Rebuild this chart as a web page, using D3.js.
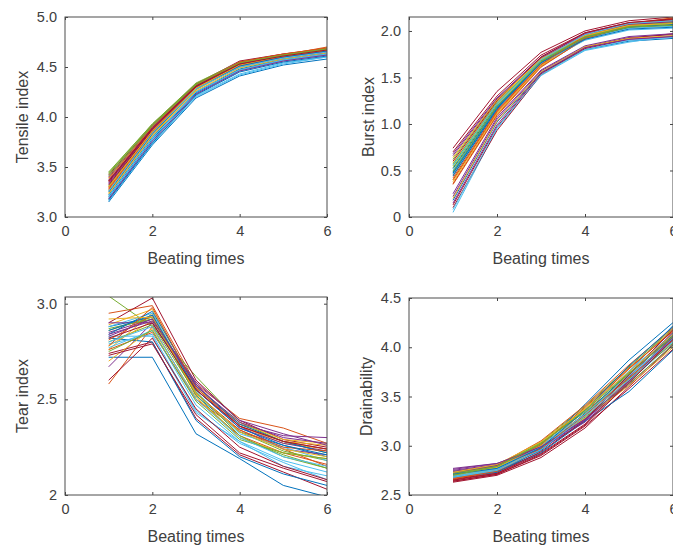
<!DOCTYPE html>
<html>
<head>
<meta charset="utf-8">
<script src="https://cdn.jsdelivr.net/npm/d3@7"></script>
<style>
  body { margin: 0; background: #fff; }
  text { font-family: "Liberation Sans", Arial, sans-serif; fill: #404040; }
</style>
</head>
<body>
<div id="visualization"></div>
<script>
// x positions (beating times)
const beatingTimes = [1, 2, 3, 4, 5, 6];

// MATLAB default colour order
const lineColors = ["#0072BD", "#D95319", "#EDB120", "#7E2F8E", "#77AC30", "#4DBEEE", "#A2142F"];

const tensileSeries = [
  [3.15, 3.72, 4.19, 4.41, 4.52, 4.58], [3.30, 3.85, 4.28, 4.50, 4.60, 4.66], [3.38, 3.90, 4.32, 4.54, 4.62, 4.68],
  [3.34, 3.88, 4.30, 4.52, 4.60, 4.65], [3.45, 3.93, 4.33, 4.53, 4.61, 4.67], [3.18, 3.75, 4.21, 4.43, 4.54, 4.60],
  [3.36, 3.89, 4.31, 4.55, 4.62, 4.67], [3.20, 3.78, 4.24, 4.47, 4.57, 4.63], [3.27, 3.84, 4.29, 4.55, 4.63, 4.69],
  [3.24, 3.82, 4.27, 4.51, 4.60, 4.66], [3.40, 3.91, 4.32, 4.51, 4.59, 4.64], [3.31, 3.86, 4.29, 4.50, 4.59, 4.65],
  [3.16, 3.73, 4.20, 4.42, 4.53, 4.60], [3.42, 3.92, 4.33, 4.56, 4.63, 4.68], [3.22, 3.80, 4.25, 4.48, 4.58, 4.64],
  [3.29, 3.86, 4.30, 4.53, 4.62, 4.68], [3.26, 3.83, 4.28, 4.52, 4.61, 4.67], [3.33, 3.87, 4.30, 4.51, 4.60, 4.65],
  [3.43, 3.92, 4.33, 4.54, 4.62, 4.69], [3.19, 3.77, 4.23, 4.46, 4.56, 4.62], [3.35, 3.88, 4.31, 4.52, 4.61, 4.66],
  [3.17, 3.74, 4.22, 4.45, 4.55, 4.61], [3.28, 3.85, 4.29, 4.54, 4.62, 4.70], [3.23, 3.81, 4.26, 4.49, 4.58, 4.64],
  [3.37, 3.89, 4.31, 4.53, 4.61, 4.67], [3.44, 3.93, 4.34, 4.55, 4.62, 4.68], [3.21, 3.79, 4.25, 4.47, 4.57, 4.63],
  [3.32, 3.87, 4.30, 4.52, 4.60, 4.66], [3.25, 3.83, 4.28, 4.51, 4.60, 4.66], [3.39, 3.90, 4.32, 4.55, 4.63, 4.69],
  [3.30, 3.86, 4.29, 4.52, 4.61, 4.67], [3.18, 3.76, 4.23, 4.46, 4.56, 4.62], [3.41, 3.91, 4.32, 4.54, 4.62, 4.68],
  [3.26, 3.84, 4.28, 4.50, 4.59, 4.65], [3.36, 3.89, 4.31, 4.53, 4.61, 4.67]
];

const burstSeries = [
  [0.18, 1.02, 1.55, 1.80, 1.89, 1.92], [0.45, 1.15, 1.65, 1.92, 2.04, 2.10], [0.40, 1.12, 1.63, 1.93, 2.05, 2.12],
  [0.68, 1.28, 1.72, 1.97, 2.08, 2.11], [0.55, 1.22, 1.69, 1.95, 2.06, 2.09], [0.05, 0.95, 1.52, 1.79, 1.88, 1.95],
  [0.74, 1.35, 1.77, 2.00, 2.11, 2.15], [0.48, 1.18, 1.66, 1.93, 2.04, 2.06], [0.36, 1.10, 1.62, 1.91, 2.05, 2.13],
  [0.58, 1.24, 1.70, 1.96, 2.07, 2.10], [0.22, 1.05, 1.57, 1.83, 1.93, 1.96], [0.62, 1.26, 1.71, 1.94, 2.05, 2.07],
  [0.50, 1.20, 1.67, 1.92, 2.03, 2.05], [0.13, 0.97, 1.54, 1.82, 1.92, 1.97], [0.52, 1.19, 1.67, 1.94, 2.06, 2.08],
  [0.42, 1.14, 1.64, 1.92, 2.05, 2.11], [0.38, 1.11, 1.62, 1.94, 2.07, 2.14], [0.25, 1.07, 1.58, 1.84, 1.94, 1.97],
  [0.57, 1.23, 1.69, 1.95, 2.06, 2.09], [0.46, 1.17, 1.65, 1.90, 2.01, 2.03], [0.10, 0.93, 1.53, 1.81, 1.91, 1.94],
  [0.44, 1.16, 1.66, 1.93, 2.04, 2.07], [0.35, 1.09, 1.61, 1.92, 2.06, 2.13], [0.20, 1.03, 1.56, 1.83, 1.92, 1.95],
  [0.66, 1.27, 1.71, 1.96, 2.07, 2.10], [0.53, 1.21, 1.68, 1.94, 2.05, 2.08], [0.08, 0.96, 1.53, 1.80, 1.90, 1.93],
  [0.60, 1.25, 1.72, 1.98, 2.09, 2.12], [0.47, 1.17, 1.66, 1.91, 2.02, 2.04], [0.40, 1.13, 1.64, 1.95, 2.08, 2.14],
  [0.64, 1.26, 1.70, 1.95, 2.06, 2.08], [0.15, 0.99, 1.55, 1.82, 1.91, 1.94], [0.49, 1.19, 1.67, 1.93, 2.04, 2.06],
  [0.56, 1.22, 1.69, 1.96, 2.08, 2.11], [0.70, 1.30, 1.74, 1.98, 2.09, 2.13]
];

const tearSeries = [
  [2.72, 2.72, 2.32, 2.19, 2.05, 1.99], [2.95, 2.99, 2.58, 2.40, 2.35, 2.27], [2.76, 2.95, 2.55, 2.36, 2.27, 2.24],
  [2.67, 2.90, 2.56, 2.37, 2.31, 2.30], [3.04, 2.88, 2.62, 2.38, 2.28, 2.22], [2.83, 2.83, 2.43, 2.28, 2.15, 2.10],
  [2.90, 3.03, 2.60, 2.39, 2.29, 2.25], [2.88, 2.93, 2.52, 2.33, 2.26, 2.20], [2.58, 2.88, 2.50, 2.34, 2.24, 2.15],
  [2.89, 2.97, 2.56, 2.38, 2.29, 2.27], [2.85, 2.92, 2.58, 2.36, 2.24, 2.21], [2.80, 2.89, 2.53, 2.33, 2.23, 2.18],
  [2.88, 2.95, 2.54, 2.32, 2.25, 2.18], [2.74, 2.80, 2.40, 2.21, 2.12, 2.03], [2.82, 2.80, 2.39, 2.20, 2.11, 2.05],
  [2.76, 2.85, 2.50, 2.31, 2.22, 2.16], [2.78, 2.91, 2.57, 2.37, 2.28, 2.26], [2.90, 2.90, 2.55, 2.35, 2.27, 2.23],
  [2.86, 2.93, 2.52, 2.30, 2.21, 2.14], [2.79, 2.84, 2.44, 2.27, 2.17, 2.08], [2.60, 2.82, 2.45, 2.25, 2.15, 2.08],
  [2.84, 2.96, 2.57, 2.37, 2.28, 2.22], [2.81, 2.94, 2.53, 2.34, 2.25, 2.23], [2.70, 2.87, 2.51, 2.30, 2.22, 2.19],
  [2.84, 2.91, 2.59, 2.39, 2.32, 2.26], [2.87, 2.92, 2.54, 2.31, 2.20, 2.14], [2.77, 2.86, 2.47, 2.28, 2.18, 2.12],
  [2.73, 2.79, 2.42, 2.22, 2.14, 2.07], [2.86, 2.94, 2.55, 2.35, 2.26, 2.21], [2.78, 2.98, 2.56, 2.36, 2.28, 2.24],
  [2.92, 2.93, 2.53, 2.33, 2.24, 2.20], [2.83, 2.92, 2.57, 2.38, 2.30, 2.27], [2.75, 2.86, 2.49, 2.29, 2.22, 2.19],
  [2.80, 2.88, 2.50, 2.30, 2.20, 2.15], [2.82, 2.90, 2.55, 2.36, 2.28, 2.24]
];

const drainSeries = [
  [2.70, 2.75, 2.95, 3.30, 3.75, 4.22], [2.65, 2.76, 3.02, 3.35, 3.70, 4.15], [2.69, 2.78, 3.03, 3.38, 3.78, 4.18],
  [2.77, 2.82, 2.98, 3.25, 3.68, 4.12], [2.74, 2.80, 3.04, 3.40, 3.80, 4.19], [2.68, 2.74, 2.92, 3.28, 3.65, 4.05],
  [2.63, 2.70, 2.88, 3.18, 3.60, 4.02], [2.72, 2.76, 2.99, 3.42, 3.87, 4.25], [2.66, 2.73, 2.96, 3.36, 3.78, 4.17],
  [2.71, 2.79, 3.01, 3.32, 3.72, 4.13], [2.75, 2.81, 3.00, 3.27, 3.62, 4.03], [2.70, 2.77, 3.02, 3.37, 3.74, 4.10],
  [2.67, 2.75, 2.97, 3.31, 3.70, 4.08], [2.64, 2.71, 2.90, 3.20, 3.58, 3.98], [2.69, 2.74, 2.93, 3.25, 3.55, 3.97],
  [2.72, 2.80, 3.05, 3.41, 3.82, 4.20], [2.68, 2.76, 2.98, 3.30, 3.66, 4.06], [2.73, 2.79, 2.97, 3.24, 3.64, 4.09],
  [2.71, 2.78, 2.99, 3.29, 3.63, 4.02], [2.70, 2.77, 3.00, 3.35, 3.76, 4.14], [2.66, 2.72, 2.92, 3.22, 3.66, 4.11],
  [2.68, 2.73, 2.96, 3.33, 3.73, 4.12], [2.66, 2.75, 3.01, 3.39, 3.79, 4.16], [2.70, 2.78, 3.00, 3.28, 3.61, 4.00],
  [2.74, 2.80, 2.99, 3.27, 3.70, 4.15], [2.72, 2.79, 3.03, 3.34, 3.68, 4.04], [2.69, 2.76, 2.99, 3.32, 3.71, 4.09],
  [2.65, 2.72, 2.94, 3.26, 3.72, 4.18], [2.71, 2.77, 2.98, 3.36, 3.81, 4.21], [2.67, 2.74, 2.97, 3.31, 3.69, 4.07],
  [2.73, 2.81, 3.04, 3.37, 3.75, 4.13], [2.76, 2.82, 2.99, 3.26, 3.66, 4.10], [2.70, 2.79, 3.02, 3.36, 3.73, 4.11],
  [2.68, 2.75, 2.96, 3.30, 3.67, 4.06], [2.64, 2.71, 2.91, 3.21, 3.64, 4.08]
];

// tick values and labels
const xTicks = [0, 2, 4, 6];
const tensileTicks = [3.0, 3.5, 4.0, 4.5, 5.0];
const tensileTickLabels = ["3.0", "3.5", "4.0", "4.5", "5.0"];
const burstTicks = [0, 0.5, 1.0, 1.5, 2.0];
const burstTickLabels = ["0", "0.5", "1.0", "1.5", "2.0"];
const tearTicks = [2, 2.5, 3.0];
const tearTickLabels = ["2", "2.5", "3.0"];
const drainTicks = [2.5, 3.0, 3.5, 4.0, 4.5];
const drainTickLabels = ["2.5", "3.0", "3.5", "4.0", "4.5"];

const svg = d3.select("#visualization").append("svg")
    .attr("width", 673)
    .attr("height", 546);

const panels = [
    { left: 65, right: 327, top: 17, bottom: 217, yDomain: [3.0, 5.0], yTicks: tensileTicks, yLabels: tensileTickLabels,
      series: tensileSeries, yTitle: "Tensile index", yTitleX: 22 },
    { left: 409, right: 673, top: 17, bottom: 217, yDomain: [0, 2.15], yTicks: burstTicks, yLabels: burstTickLabels,
      series: burstSeries, yTitle: "Burst index", yTitleX: 368 },
    { left: 65, right: 327, top: 297, bottom: 495, yDomain: [2, 3.035], yTicks: tearTicks, yLabels: tearTickLabels,
      series: tearSeries, yTitle: "Tear index", yTitleX: 22 },
    { left: 409, right: 673, top: 298, bottom: 495, yDomain: [2.5, 4.5], yTicks: drainTicks, yLabels: drainTickLabels,
      series: drainSeries, yTitle: "Drainability", yTitleX: 366 }
];

panels.forEach((p, i) => {
    const x = d3.scaleLinear().domain([0, 6]).range([p.left, p.right]);
    const y = d3.scaleLinear().domain(p.yDomain).range([p.bottom, p.top]);
    const g = svg.append("g");

    g.append("clipPath").attr("id", "clip" + i)
        .append("rect")
        .attr("x", p.left).attr("y", p.top)
        .attr("width", p.right - p.left).attr("height", p.bottom - p.top);

    const line = d3.line()
        .x((d, j) => x(beatingTimes[j]))
        .y(d => y(d));

    g.append("g").attr("clip-path", `url(#clip${i})`)
        .selectAll("path")
        .data(p.series)
        .enter().append("path")
        .attr("d", line)
        .attr("fill", "none")
        .attr("stroke", (d, j) => lineColors[j % lineColors.length])
        .attr("stroke-width", 1);

    // axes, MATLAB style: ticks pointing inward
    const tickLen = 3;
    g.append("g")
        .attr("transform", `translate(0,${p.bottom})`)
        .call(d3.axisBottom(x).tickValues(xTicks).tickSize(-tickLen).tickPadding(9).tickFormat(d3.format("d")))
        .call(a => a.select(".domain").remove());
    g.append("g")
        .attr("transform", `translate(0,${p.top})`)
        .call(d3.axisTop(x).tickValues(xTicks).tickSize(-tickLen).tickFormat(""))
        .call(a => a.select(".domain").remove());
    g.append("g")
        .attr("transform", `translate(${p.left},0)`)
        .call(d3.axisLeft(y).tickValues(p.yTicks).tickSize(-tickLen).tickPadding(8)
            .tickFormat((d, k) => p.yLabels[k]))
        .call(a => a.select(".domain").remove());
    g.append("g")
        .attr("transform", `translate(${p.right},0)`)
        .call(d3.axisRight(y).tickValues(p.yTicks).tickSize(-tickLen).tickFormat(""))
        .call(a => a.select(".domain").remove());

    g.selectAll(".tick line").attr("stroke", "#444");
    g.selectAll(".tick text")
        .style("font-size", "14.5px")
        .style("font-family", "Liberation Sans, Arial, sans-serif")
        .attr("fill", "#404040");

    g.append("rect")
        .attr("x", p.left).attr("y", p.top)
        .attr("width", p.right - p.left).attr("height", p.bottom - p.top)
        .attr("fill", "none")
        .attr("stroke", "#4d4d4d")
        .attr("stroke-width", 1);

    g.append("text")
        .attr("x", (p.left + p.right) / 2)
        .attr("y", p.bottom + 47)
        .attr("text-anchor", "middle")
        .style("font-size", "16px")
        .text("Beating times");

    g.append("text")
        .attr("transform", `translate(${p.yTitleX},${(p.top + p.bottom) / 2}) rotate(-90)`)
        .attr("text-anchor", "middle")
        .attr("dy", "0.35em")
        .style("font-size", "16px")
        .text(p.yTitle);
});
</script>
</body>
</html>
